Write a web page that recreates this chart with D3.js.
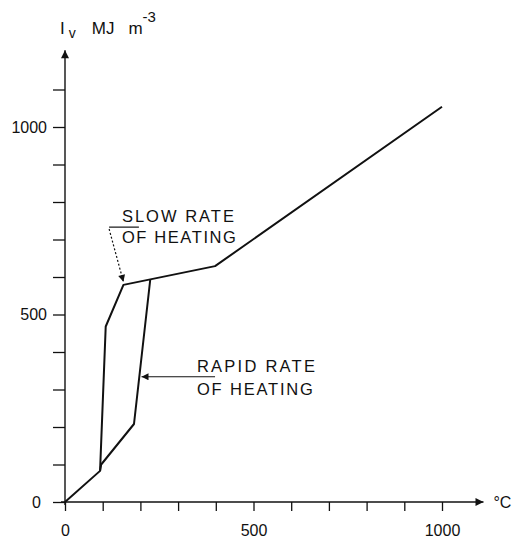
<!DOCTYPE html>
<html lang="en">
<head>
  <meta charset="UTF-8">
  <title>Iv vs temperature</title>
  <style>
    body { margin: 0; padding: 0; background: #fff; }
    svg { display: block; }
    text { font-family: "Liberation Sans", Arial, sans-serif; fill: #111; }
    .curve { fill: none; stroke: #111; stroke-width: 2px; stroke-linejoin: round; }
    .axis line { stroke: #111; stroke-width: 1.3px; }
    .axis text { font-size: 16px; }
  </style>
</head>
<body>
  <div id="chart"></div>
  <script src="https://d3js.org/d3.v7.min.js"></script>
  <script>
    // temperature (°C) and Iv (MJ m^-3)
    var slowT = [0, 93, 108, 155, 398, 1000];
    var slowIv = [0, 83, 468, 579, 629, 1054];
    var rapidT = [93, 96, 183, 226];
    var rapidIv = [83, 100, 208, 592];

    var xTicks = [0, 100, 200, 300, 400, 500, 600, 700, 800, 900, 1000];
    var yTicks = [0, 100, 200, 300, 400, 500, 600, 700, 800, 900, 1000, 1100];
    var xLabels = [0, 500, 1000];
    var yLabels = [0, 500, 1000];

    var width = 515, height = 538;

    var svg = d3.select("#chart").append("svg")
      .attr("width", width)
      .attr("height", height);

    var x = d3.scaleLinear().domain([0, 1000]).range([65, 442]);
    var y = d3.scaleLinear().domain([0, 1000]).range([502, 127]);

    var defs = svg.append("defs");
    defs.append("marker")
      .attr("id", "head")
      .attr("viewBox", "0 0 10 10")
      .attr("refX", 10).attr("refY", 5)
      .attr("markerWidth", 10).attr("markerHeight", 7)
      .attr("markerUnits", "userSpaceOnUse")
      .attr("orient", "auto")
      .append("path").attr("d", "M0,0L10,5L0,10z").attr("fill", "#111");
    defs.append("marker")
      .attr("id", "axhead")
      .attr("viewBox", "0 0 10 10")
      .attr("refX", 10).attr("refY", 5)
      .attr("markerWidth", 18).attr("markerHeight", 8)
      .attr("markerUnits", "userSpaceOnUse")
      .attr("orient", "auto")
      .append("path").attr("d", "M0,0L10,5L0,10z").attr("fill", "#111");

    // axes
    var xAxis = d3.axisBottom(x)
      .tickValues(xTicks)
      .tickSize(9)
      .tickPadding(14)
      .tickFormat(function(d) { return xLabels.indexOf(d) >= 0 ? d : ""; });
    var gx = svg.append("g").attr("class", "axis")
      .attr("transform", "translate(0," + y(0) + ")")
      .call(xAxis);
    gx.select(".domain").remove();

    var yAxis = d3.axisLeft(y)
      .tickValues(yTicks)
      .tickSize(12)
      .tickPadding(6)
      .tickFormat(function(d) { return yLabels.indexOf(d) >= 0 ? d : ""; });
    var gy = svg.append("g").attr("class", "axis")
      .attr("transform", "translate(" + x(0) + ",0)")
      .call(yAxis);
    gy.select(".domain").remove();
    gy.selectAll(".tick").filter(function(d) { return d === 0; }).select("text")
      .attr("dx", -6);

    svg.append("line")
      .attr("x1", x(0) - 4).attr("y1", y(0))
      .attr("x2", x(1110)).attr("y2", y(0))
      .attr("stroke", "#111").attr("stroke-width", 1.4)
      .attr("marker-end", "url(#axhead)");
    svg.append("line")
      .attr("x1", x(0)).attr("y1", y(0) + 3)
      .attr("x2", x(0)).attr("y2", y(1205))
      .attr("stroke", "#111").attr("stroke-width", 1.4)
      .attr("marker-end", "url(#axhead)");

    // axis titles
    svg.append("text").attr("x", x(1110) + 10).attr("y", y(0) + 6)
      .attr("font-size", 16).text("°C");
    var t = svg.append("text").attr("x", 60).attr("y", 34).attr("font-size", 17);
    t.append("tspan").text("I");
    t.append("tspan").attr("dy", 4).attr("dx", 4).attr("font-size", 14).text("v");
    t.append("tspan").attr("dy", -4).attr("dx", 16).text("MJ");
    t.append("tspan").attr("dx", 14).text("m");
    t.append("tspan").attr("dy", -12).attr("font-size", 15).text("-3");

    // curves
    var line = d3.line()
      .x(function(d) { return x(d[0]); })
      .y(function(d) { return y(d[1]); });
    svg.append("path").attr("class", "curve")
      .attr("d", line(d3.zip(slowT, slowIv)));
    svg.append("path").attr("class", "curve")
      .attr("d", line(d3.zip(rapidT, rapidIv)));

    // annotations
    function label(tx, ty, lines, w, gap) {
      lines.forEach(function(s, i) {
        svg.append("text")
          .attr("x", x(tx)).attr("y", y(ty) + i * gap)
          .attr("font-size", 16.5)
          .attr("textLength", w[i]).attr("lengthAdjust", "spacing")
          .text(s);
      });
    }
    label(151, 747, ["SLOW RATE", "OF HEATING"], [112, 114], 21);
    label(350, 347, ["RAPID RATE", "OF HEATING"], [118, 116], 23);

    svg.append("line")
      .attr("x1", x(117)).attr("y1", y(733))
      .attr("x2", x(196)).attr("y2", y(733))
      .attr("stroke", "#111").attr("stroke-width", 1.2);
    svg.append("line")
      .attr("x1", x(117)).attr("y1", y(728))
      .attr("x2", x(155)).attr("y2", y(587))
      .attr("stroke", "#111").attr("stroke-width", 1.2)
      .attr("stroke-dasharray", "2,2")
      .attr("marker-end", "url(#head)");
    svg.append("line")
      .attr("x1", x(398)).attr("y1", y(334))
      .attr("x2", x(203)).attr("y2", y(334))
      .attr("stroke", "#111").attr("stroke-width", 1.2)
      .attr("marker-end", "url(#head)");
  </script>
</body>
</html>
